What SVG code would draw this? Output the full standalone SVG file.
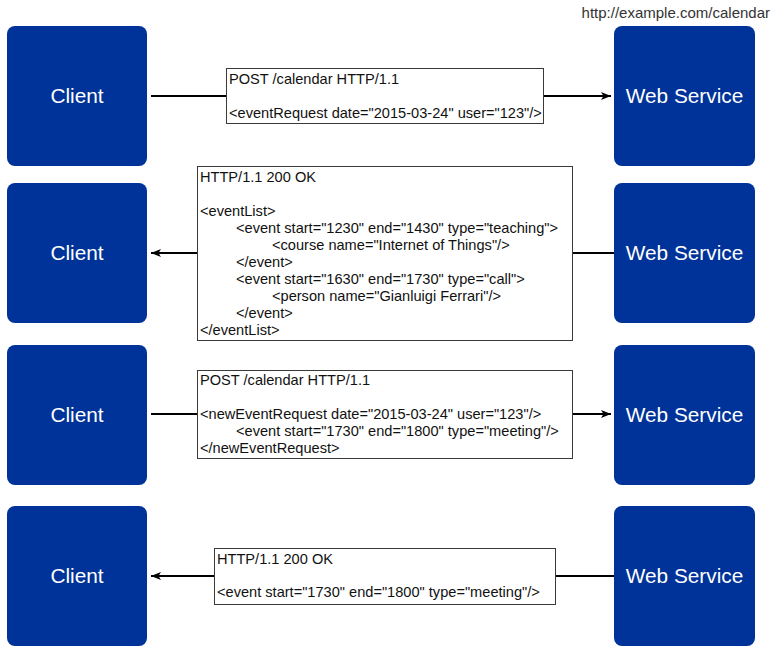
<svg xmlns="http://www.w3.org/2000/svg" width="775" height="646" viewBox="0 0 775 646">
<style>
.node{fill:#003399;}
.nl{font-family:"Liberation Sans",Arial,sans-serif;font-size:20.8px;fill:#ffffff;text-anchor:middle;}
.msg{fill:#ffffff;stroke:#3a3a3a;stroke-width:1;}
.mt{font-family:"Liberation Sans",Arial,sans-serif;font-size:14.6px;fill:#111111;}
.url{font-family:"Liberation Sans",Arial,sans-serif;font-size:15px;fill:#333333;text-anchor:end;}
.edge{fill:none;stroke:#000000;stroke-width:2;}
.arr{marker-end:url(#ah);}
</style>
<defs>
<marker id="ah" viewBox="0 0 10 8" refX="10" refY="4" markerWidth="10" markerHeight="8" markerUnits="userSpaceOnUse" orient="auto">
<path d="M0,0 L10,4 L0,8 L2.5,4 z" fill="#000000"/>
</marker>
</defs>
<rect width="775" height="646" fill="#ffffff"/>
<text class="url" x="770" y="18">http://example.com/calendar</text>

<g id="client1"><rect class="node" x="7" y="26" width="140" height="140" rx="8"/><text class="nl" x="77" y="103">Client</text></g>
<g id="client2"><rect class="node" x="7" y="183" width="140" height="140" rx="8"/><text class="nl" x="77" y="260">Client</text></g>
<g id="client3"><rect class="node" x="7" y="345" width="140" height="140" rx="8"/><text class="nl" x="77" y="422">Client</text></g>
<g id="client4"><rect class="node" x="7" y="506" width="140" height="140" rx="8"/><text class="nl" x="77" y="583">Client</text></g>

<g id="service1"><rect class="node" x="614" y="26" width="141" height="140" rx="8"/><text class="nl" x="684.5" y="103">Web Service</text></g>
<g id="service2"><rect class="node" x="614" y="183" width="141" height="140" rx="8"/><text class="nl" x="684.5" y="260">Web Service</text></g>
<g id="service3"><rect class="node" x="614" y="345" width="141" height="140" rx="8"/><text class="nl" x="684.5" y="422">Web Service</text></g>
<g id="service4"><rect class="node" x="614" y="506" width="141" height="140" rx="8"/><text class="nl" x="684.5" y="583">Web Service</text></g>

<g id="connectors">
<line class="edge" x1="151" y1="96" x2="226" y2="96"/>
<line class="edge arr" x1="543" y1="96" x2="611" y2="96"/>
<line class="edge" x1="614" y1="253" x2="573" y2="253"/>
<line class="edge arr" x1="197" y1="253" x2="151" y2="253"/>
<line class="edge" x1="151" y1="414" x2="197" y2="414"/>
<line class="edge arr" x1="573" y1="414" x2="611" y2="414"/>
<line class="edge" x1="614" y1="576" x2="555" y2="576"/>
<line class="edge arr" x1="214" y1="576" x2="151" y2="576"/>
</g>

<g id="msg1">
<rect class="msg" x="226.5" y="68.5" width="317" height="55"/>
<text class="mt" x="229" y="83.5">POST /calendar HTTP/1.1</text>
<text class="mt" x="229" y="117.5">&lt;eventRequest date="2015-03-24" user="123"/&gt;</text>
</g>

<g id="msg2">
<rect class="msg" x="197.5" y="166.5" width="375" height="174"/>
<text class="mt" x="200" y="181.7">HTTP/1.1 200 OK</text>
<text class="mt" x="200" y="215.7">&lt;eventList&gt;</text>
<text class="mt" x="236" y="232.7">&lt;event start="1230" end="1430" type="teaching"&gt;</text>
<text class="mt" x="272" y="249.7">&lt;course name="Internet of Things"/&gt;</text>
<text class="mt" x="236" y="266.7">&lt;/event&gt;</text>
<text class="mt" x="236" y="283.7">&lt;event start="1630" end="1730" type="call"&gt;</text>
<text class="mt" x="272" y="300.7">&lt;person name="Gianluigi Ferrari"/&gt;</text>
<text class="mt" x="236" y="317.7">&lt;/event&gt;</text>
<text class="mt" x="200" y="334.7">&lt;/eventList&gt;</text>
</g>

<g id="msg3">
<rect class="msg" x="197.5" y="370.5" width="375" height="88"/>
<text class="mt" x="200" y="385">POST /calendar HTTP/1.1</text>
<text class="mt" x="200" y="419">&lt;newEventRequest date="2015-03-24" user="123"/&gt;</text>
<text class="mt" x="236" y="436">&lt;event start="1730" end="1800" type="meeting"/&gt;</text>
<text class="mt" x="200" y="453">&lt;/newEventRequest&gt;</text>
</g>

<g id="msg4">
<rect class="msg" x="214.5" y="548.5" width="341" height="56"/>
<text class="mt" x="217" y="564">HTTP/1.1 200 OK</text>
<text class="mt" x="217" y="597">&lt;event start="1730" end="1800" type="meeting"/&gt;</text>
</g>
</svg>
